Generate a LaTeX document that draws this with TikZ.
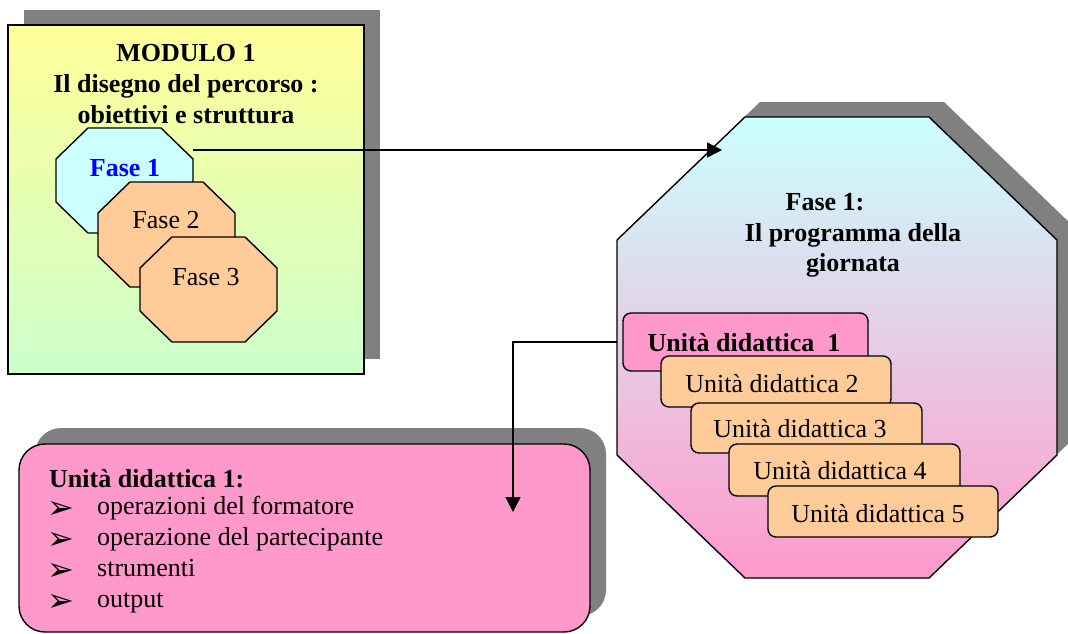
\documentclass[tikz,border=0pt]{standalone}
\usepackage{fontspec}
\setmainfont{Liberation Serif}
\newfontfamily\dejavu{DejaVu Sans}
\usetikzlibrary{arrows.meta}
\definecolor{shadowgray}{HTML}{808080}
\definecolor{modtop}{HTML}{FFFF99}
\definecolor{modbot}{HTML}{CCFFCC}
\definecolor{cyanfill}{HTML}{CCFFFF}
\definecolor{pinkfill}{HTML}{FF99CC}
\definecolor{orangefill}{HTML}{FFCC99}
\definecolor{fasblue}{HTML}{0000FF}
\newcommand{\octshape}[7]{%
  \path[#1] (#2+#6,#3) -- (#4-#6,#3) -- (#4,#3+#7) -- (#4,#5-#7) --
    (#4-#6,#5) -- (#2+#6,#5) -- (#2,#5-#7) -- (#2,#3+#7) -- cycle;}
\tikzset{
  shadowfill/.style={fill=shadowgray, draw=none},
  border/.style={draw=black, line width=1.4pt},
  txt/.style={font=\fontsize{26}{31}\selectfont, inner sep=0pt, anchor=base},
  btxt/.style={txt, font=\fontsize{26}{31}\selectfont\bfseries},
  ltxt/.style={txt, anchor=base west},
  bullet/.style={inner sep=0pt, anchor=base west, font=\dejavu\fontsize{32}{34}\selectfont},
  unitbox/.style={border, rounded corners=8pt},
  conn/.style={draw=black, line width=1.4pt},
  arr/.style={conn, -{Triangle[length=15pt, width=15pt]}}
}
\begin{document}
\begin{tikzpicture}[x=1pt, y=-1pt]
\clip (0,0) rectangle (1068,633);

% ---------- Module box ----------
\path[shadowfill] (24,10) rectangle (380,359);
\path[border, top color=modtop, bottom color=modbot] (8,25) rectangle (364,374);
\node[btxt] (m1) at (186,61) {MODULO 1};
\node[btxt] (m2) at (186,92) {Il disegno del percorso :};
\node[btxt] (m3) at (186,123) {obiettivi e struttura};

% Fase octagons
\octshape{border, fill=cyanfill}{56}{128}{193}{233}{32}{31}
\octshape{border, fill=orangefill}{98}{182}{235}{287}{32}{31}
\octshape{border, fill=orangefill}{140}{237}{277}{342}{32}{31}
\node[btxt, text=fasblue] (f1) at (125,176) {Fase 1};
\node[txt] (f2) at (166,228) {Fase 2};
\node[txt] (f3) at (206,285) {Fase 3};

% ---------- Big octagon ----------
\octshape{shadowfill}{632}{102}{1072}{563}{128}{123}
\octshape{border, top color=cyanfill, bottom color=pinkfill}{617}{117}{1057}{578}{128}{123}
\node[btxt] (g1) at (825,210) {Fase 1:};
\node[btxt] (g2) at (853,241) {Il programma della};
\node[btxt] (g3) at (853,271) {giornata};

% Unita boxes
\path[unitbox, fill=pinkfill] (623,313) rectangle (868,371);
\node[btxt] (u1) at (744,351) {Unità didattica\ \ 1};
\path[unitbox, fill=orangefill] (661,356) rectangle (891,407);
\node[txt] (u2) at (772,392) {Unità didattica 2};
\path[unitbox, fill=orangefill] (691,403) rectangle (922,453);
\node[txt] (u3) at (800,437) {Unità didattica 3};
\path[unitbox, fill=orangefill] (729,444) rectangle (960,496);
\node[txt] (u4) at (840,479) {Unità didattica 4};
\path[unitbox, fill=orangefill] (768,486) rectangle (998,537);
\node[txt] (u5) at (878,522) {Unità didattica 5};

% ---------- Bottom box ----------
\path[shadowfill, rounded corners=26pt] (35,428) rectangle (606,616);
\path[border, fill=pinkfill, rounded corners=26pt] (19,444) rectangle (590,632);
\node[btxt, anchor=base west] (d0) at (49,487) {Unità didattica 1:};
\node[bullet] (k1) at (47,518) {➢};
\node[ltxt] (d1) at (97,514) {operazioni del formatore};
\node[bullet] (k2) at (47,549) {➢};
\node[ltxt] (d2) at (97,545) {operazione del partecipante};
\node[bullet] (k3) at (47,580) {➢};
\node[ltxt] (d3) at (97,576) {strumenti};
\node[bullet] (k4) at (47,611) {➢};
\node[ltxt] (d4) at (97,607) {output};

% ---------- Connectors ----------
\coordinate (a1) at (193,150);
\coordinate (a2) at (722,150);
\draw[arr] (a1) -- (a2);
\coordinate (b1) at (617,342);
\coordinate (b2) at (513,512);
\draw[arr] (b1) -| (b2);
\end{tikzpicture}
\end{document}
